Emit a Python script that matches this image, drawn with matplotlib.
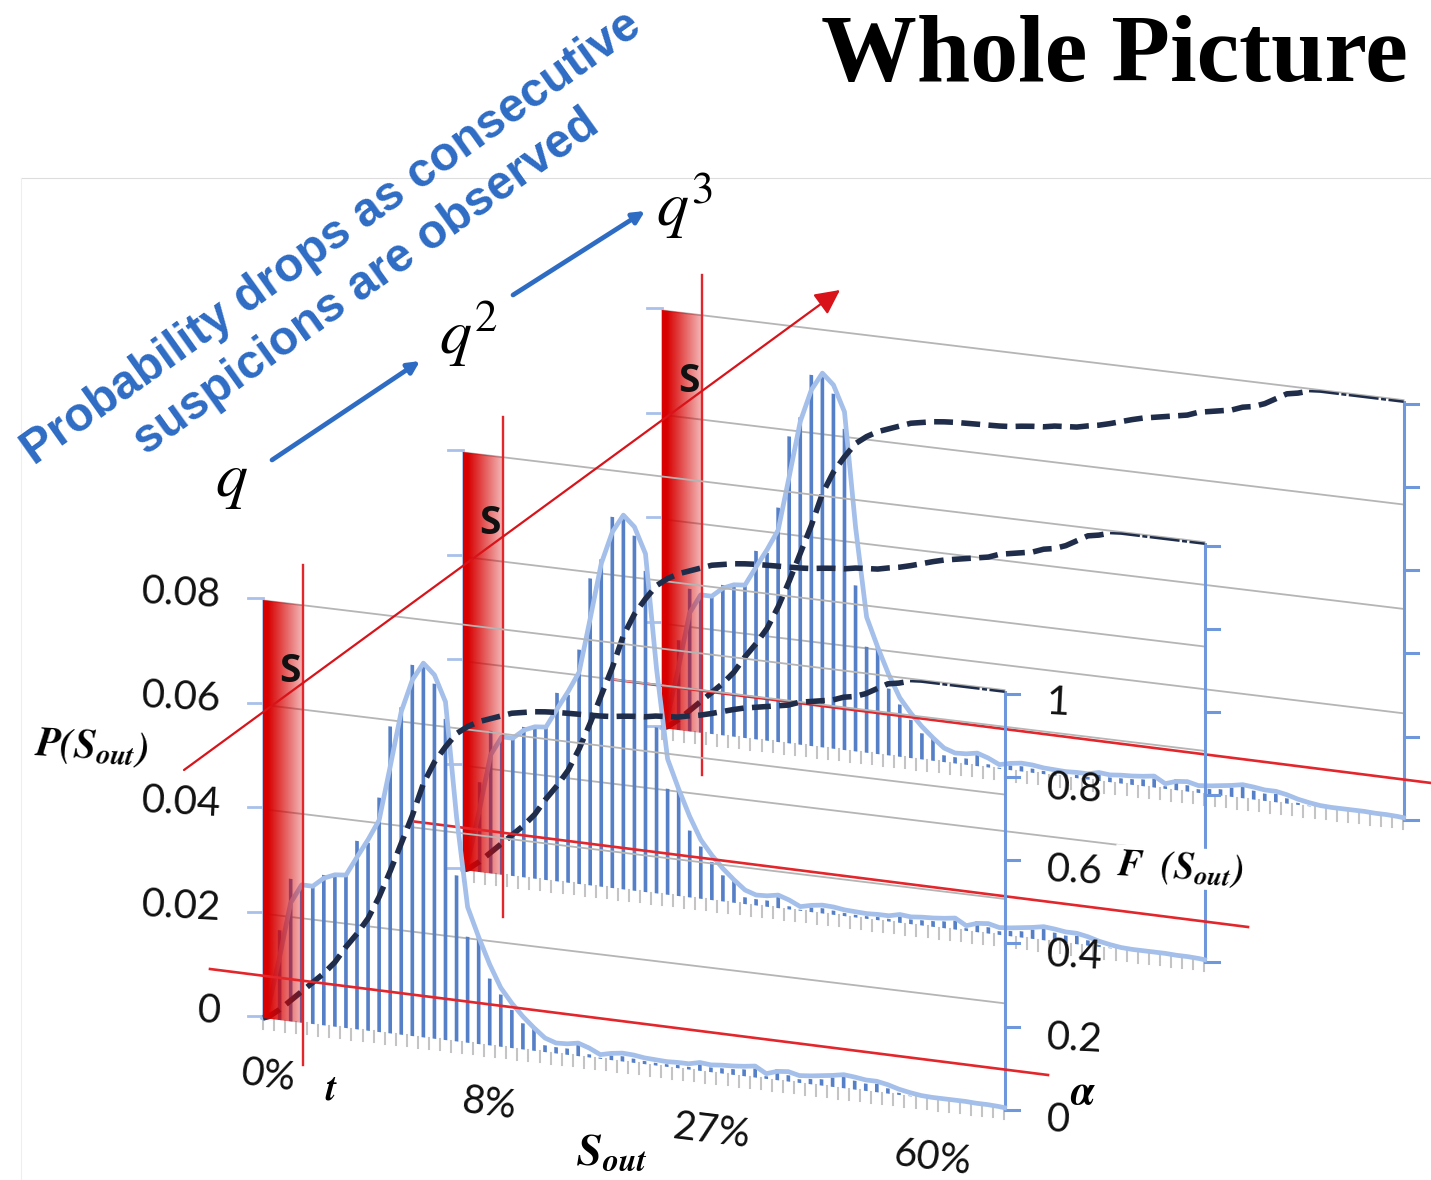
import numpy as np
import matplotlib
matplotlib.use("Agg")
import matplotlib.pyplot as plt
from matplotlib.patches import Polygon
from matplotlib.transforms import Affine2D

# values, one entry per S_out bin
p_bars = [0.0, .0172, .0273, .0264, .0266, .0288, .0291, .0293, .0361, .0360,
          .0449, .0588, .0627, .0711, .0716, .0680, .0615, .0318, .0203, .0205,
          .0128, .0100, .0073, .0050, .0042, .0013, .0012, .0012, .0027, .0006,
          .0002, .0009, .0010, .0008, .0006, .0005, .0005, .0006, .0005, .0012,
          .0009, .0010, .0011, .0013, .0017, .0005, .0021, .0012, .0007, .0010,
          .0012, .0018, .0022, .0017, .0014, .0016, .0010, .0004, .0001, 0.0,
          0.0, 0.0, 0.0, 0.0, 0.0, 0.0, 0.0]
p_line = [.0023, .0121, .0227, .0264, .0264, .0282, .0291, .0293, .0330, .0366,
          .0406, .0511, .0619, .0682, .0717, .0697, .0648, .0430, .0260, .0205,
          .0155, .0113, .0086, .0063, .0044, .0027, .0020, .0021, .0025, .0018,
          .0008, .0013, .0016, .0015, .0012, .0011, .0010, .0011, .0011, .0016,
          .0014, .0016, .0017, .0019, .0022, .0010, .0017, .0019, .0014, .0016,
          .0019, .0022, .0026, .0024, .0021, .0021, .0017, .0011, .0007, .0004,
          .0003, .0003, .0003, .0003, .0002, .0002, .0001]
f_line = [.005, .025, .05, .075, .10, .125, .155, .195, .23, .27,
          .325, .39, .46, .53, .61, .665, .705, .74, .76, .775,
          .785, .795, .805, .81, .815, .818, .82, .821, .822, .823,
          .824, .826, .83, .833, .835, .84, .842, .844, .85, .855,
          .862, .87, .878, .885, .89, .895, .90, .905, .915, .92,
          .925, .93, .94, .945, .955, .97, .985, .99, .998, 1.0,
          1.0, 1.0, 1.0, 1.0, 1.0, 1.0, 1.0]
p_ticks = [0, 0.02, 0.04, 0.06, 0.08]
f_ticks = [0, 0.2, 0.4, 0.6, 0.8, 1.0]
p_tick_labels = ["0", "0.02", "0.04", "0.06", "0.08"]
f_tick_labels = ["0", "0.2", "0.4", "0.6", "0.8", "1"]
pct_labels = ["0%", "8%", "27%", "60%"]

BLUE = "#2e6cc4"
RED = "#e3262b"
DARK = "#1f2d4a"
SANS = "Lato"

k = np.arange(len(p_bars))
n = len(p_bars) + 0.05

fig = plt.figure(figsize=(14.31, 11.80), dpi=100)
ax = fig.add_axes([0, 0, 1, 1])
ax.set_xlim(0, 1431)
ax.set_ylim(1180, 0)
ax.axis("off")
ax.set_autoscale_on(False)

# frame lines of the slide
ax.plot([21, 1431], [178, 178], color="#dddddd", lw=0.8, zorder=1)
ax.plot([21, 21], [178, 1180], color="#eeeeee", lw=0.8, zorder=1)

grad = np.zeros((2, 128, 4))
grad[..., 0] = 0.85
grad[..., 3] = np.clip(1.1 - 0.82 * np.linspace(0, 1, 128), 0, 1)


def draw_panel(dx, dy, z):
    ox, oy = 263 + dx, 1018 + dy
    a, b = 11.06, 1.338
    p_tf = Affine2D.from_values(a, b, 0, -5220, ox, oy)
    f_tf = Affine2D.from_values(a, b, 0, -416, ox, oy)

    # grid lines and axes
    for v in p_ticks[1:]:
        ax.plot([0, n], [v, v], color="#b5b5b5", lw=1.3, transform=p_tf + ax.transData, zorder=z)
    for v in p_ticks:
        xp, yp = p_tf.transform((0, v))
        ax.plot([xp - 15, xp], [yp - 2, yp - 2], color="#a9c1ea", lw=2, zorder=z)
    ax.plot([0, 0], [0, 0.08], color="#a9c1ea", lw=2, transform=p_tf + ax.transData, zorder=z)
    for t in range(len(p_bars) + 1):
        xp, yp = p_tf.transform((t, 0))
        ax.plot([xp, xp], [yp, yp + 11], color="#c4c4c4", lw=1.5, zorder=z)

    xr, yr = f_tf.transform((n, 0))
    ax.plot([xr, xr], [yr - 416, yr], color="#6f97dc", lw=2.2, zorder=z + 1)
    for v in f_ticks:
        ax.plot([xr, xr + 14], [yr - 416 * v + 2, yr - 416 * v + 2], color="#6f97dc", lw=2.2, zorder=z + 1)

    ax.bar(k + 0.5, p_bars, width=0.33, color="#5580c8", transform=p_tf + ax.transData, zorder=z + 2)
    ax.plot(np.r_[0, k + 0.5, n], np.r_[0, p_line, 0], color="#a3bfea", lw=3.4,
            solid_joinstyle="round", transform=p_tf + ax.transData, zorder=z + 3)
    ax.plot(np.r_[0, k[:59] + 0.5], np.r_[0, f_line[:59]], color=DARK, lw=4.0,
            linestyle=(0, (3.4, 1.5)), transform=f_tf + ax.transData, zorder=z + 4)
    ax.plot(np.r_[k[58:] + 0.5, n], np.r_[f_line[58:], 1.0], color=DARK, lw=1.8,
            linestyle=(0, (12, 1, 2, 1)), transform=f_tf + ax.transData, zorder=z + 4)

    # threshold strip with the fade to the right
    strip = Polygon([(ox, oy - 418), (ox + 40, oy - 413), (ox + 40, oy + 5), (ox, oy)],
                    transform=ax.transData, fc="none", ec="none")
    ax.add_patch(strip)
    im = ax.imshow(grad, extent=(ox, ox + 40, oy + 6, oy - 420), aspect="auto",
                   interpolation="bilinear", zorder=z + 5)
    im.set_clip_path(strip)
    ax.text(ox + 27, oy - 346, "S", family="Open Sans", weight="bold", fontsize=28,
            color="#111111", ha="center", va="center", zorder=z + 6)

    # t and alpha markers
    ax.plot([ox + 40, ox + 40], [oy - 453, oy + 47], color=RED, lw=1.7, zorder=z + 6)
    ax.plot([ox - 53, ox + 785], [oy - 49, oy + 57], color=RED, lw=1.9, zorder=z + 6)


draw_panel(399, -290, 10)
draw_panel(200, -148, 20)
draw_panel(0, 0, 30)

# probability direction arrow
ax.annotate("", xy=(840, 290), xytext=(184, 770), zorder=60,
            arrowprops=dict(arrowstyle="-|>,head_length=1.5,head_width=0.75", color="#d8141a", lw=1.6,
                            shrinkA=0, shrinkB=0))
for start, end in [((272, 460), (420, 361)), ((513, 295), (645, 211))]:
    ax.annotate("", xy=end, xytext=start, zorder=60,
                arrowprops=dict(arrowstyle="-|>,head_length=0.7,head_width=0.35", color=BLUE, lw=3.4,
                                shrinkA=0, shrinkB=0))

# tick labels
for lab, v in zip(p_tick_labels, p_ticks):
    ax.text(222, 1011 - 5220 * v, lab, family=SANS, fontsize=29, ha="right", va="center",
            rotation=-3, color="#111111", zorder=70)
right_xy = [(1071, 1120), (1074, 1039), (1074, 956), (1074, 871), (1074, 789), (1058, 703)]
for lab, (x, y) in zip(f_tick_labels, right_xy):
    ax.text(x, y, lab, family=SANS, fontsize=29, ha="center" if lab != "0" else "right", va="center",
            rotation=-3, color="#111111", zorder=70)
for lab, (x, y) in zip(pct_labels, [(268, 1076), (489, 1104), (711, 1131), (933, 1158)]):
    ax.text(x, y, lab, family=SANS, fontsize=28.5, ha="center", va="center", rotation=-7,
            color="#111111", zorder=70)

# axis names
plt.rcParams["mathtext.fontset"] = "stix"
ax.text(91, 747, r"$\mathbfit{P(S_{out})}$", fontsize=29, ha="center", va="center", rotation=-3, zorder=70)
ax.text(1180, 868, r"$\mathbfit{F\ \ (S_{out})}$", fontsize=27, ha="center", va="center", rotation=-3, zorder=70,
        bbox=dict(fc="white", ec="none", pad=1))
ax.text(612, 1152, r"$\mathbfit{S_{out}}$", fontsize=33, ha="center", va="center", zorder=70)
ax.text(331, 1090, r"$\mathbfit{t}$", fontsize=27, ha="center", va="center", zorder=70)
ax.text(1083, 1092, r"$\mathbfit{\alpha}$", fontsize=30, ha="center", va="center", zorder=70)

# q labels
ax.text(231, 480, r"$q$", fontsize=46, ha="center", va="center", zorder=70)
ax.text(469, 334, r"$q^2$", fontsize=46, ha="center", va="center", zorder=70)
ax.text(685, 206, r"$q^3$", fontsize=46, ha="center", va="center", zorder=70)

# headline texts
ax.text(1114, 58, "Whole Picture", family="Liberation Serif", weight="bold", fontsize=69,
        ha="center", va="center", color="black", zorder=70)
ax.text(34, 466, "Probability drops as consecutive", family="Liberation Sans", weight="bold",
        fontsize=34.4, color=BLUE, rotation=35.5, rotation_mode="anchor", ha="left", va="baseline", zorder=70)
ax.text(146, 456, "suspicions are observed", family="Liberation Sans", weight="bold",
        fontsize=34.4, color=BLUE, rotation=35.6, rotation_mode="anchor", ha="left", va="baseline", zorder=70)

fig.savefig("out.png", dpi=100)
